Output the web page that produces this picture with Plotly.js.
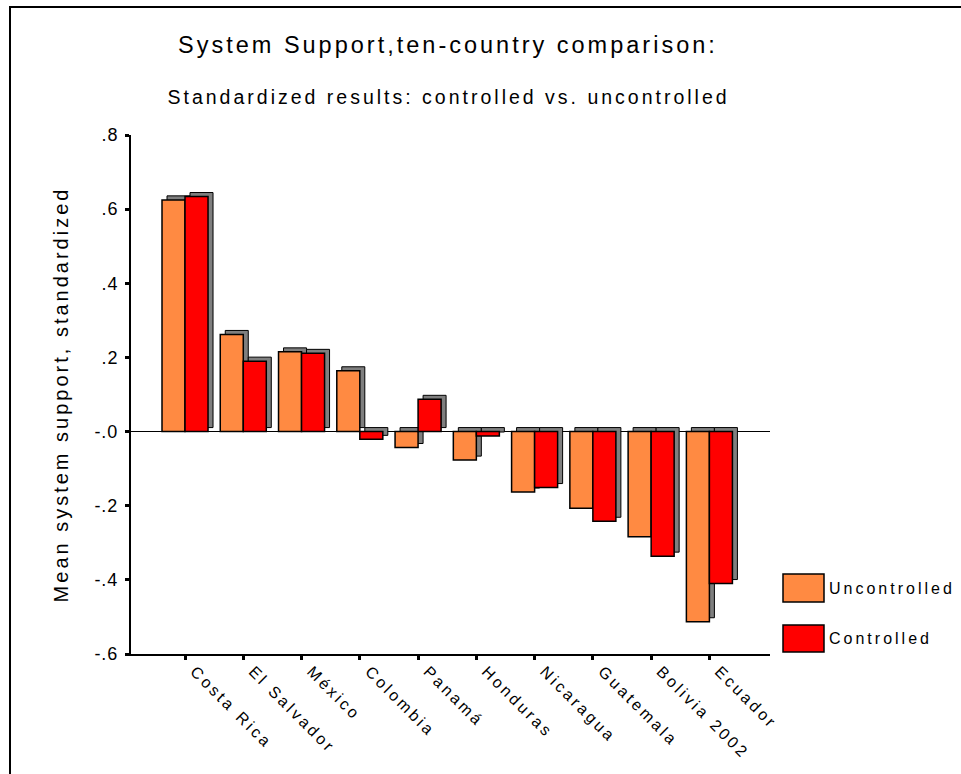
<!DOCTYPE html>
<html>
<head>
<meta charset="utf-8">
<script src="https://cdn.plot.ly/plotly-3.0.1.min.js"></script>
<style>
  html, body { margin: 0; padding: 0; background: #fff; }
  #wrap { position: relative; width: 961px; height: 774px; }
  #chart { position: absolute; left: 0; top: 0; width: 961px; height: 774px; }
  #frame { position: absolute; left: 9px; top: 6px; right: 0; bottom: 0;
           border-left: 2px solid #000; border-top: 2px solid #000; pointer-events: none; }
  .main-svg text { letter-spacing: 3px; }
  .y2tick text, .ytick text { letter-spacing: 1px; }
</style>
</head>
<body>
<div id="wrap">
  <div id="chart"></div>
  <div id="frame"></div>
</div>
<script>
// ---- data ----
const categories = ['Costa Rica', 'El Salvador', 'México', 'Colombia', 'Panamá',
                    'Honduras', 'Nicaragua', 'Guatemala', 'Bolivia 2002', 'Ecuador'];
const uncontrolled = [0.625, 0.262, 0.215, 0.164, -0.043, -0.077, -0.163, -0.207, -0.284, -0.513];
const controlled   = [0.634, 0.190, 0.211, -0.021, 0.087, -0.012, -0.151, -0.242, -0.336, -0.410];
const yTickVals = [0.8, 0.6, 0.4, 0.2, 0, -0.2, -0.4, -0.6];
const yTickText = ['.8', '.6', '.4', '.2', '-.0', '-.2', '-.4', '-.6'];
const seriesNames = ['Uncontrolled', 'Controlled'];

// ---- style / layout constants ----
const W = 961, H = 774;
const M = { l: 131, r: 191, t: 135, b: 120 };
const PW = W - M.l - M.r, PH = H - M.t - M.b;
const xRange = [-0.927, 10.04];
const yRange = [-0.6, 0.8];
const depthX = 5, depthY = 4;  // 3D depth in px
const dxData = depthX * (xRange[1] - xRange[0]) / PW;
const dyData = depthY * (yRange[1] - yRange[0]) / PH;
const colors = ['#FF8A42', '#FF0000'];
const FONT = 'Liberation Sans, Arial, sans-serif';

function px2paperX(p) { return (p - M.l) / PW; }
function px2paperY(p) { return (M.t + PH - p) / PH; }

// depth (shadow) bars on base axes, real bars on overlay axes
const shadowTraces = [uncontrolled, controlled].map((vals, i) => ({
  type: 'bar', x: categories, y: vals, xaxis: 'x', yaxis: 'y',
  marker: { color: '#7f7f7f', line: { color: '#000', width: 1 } },
  showlegend: false, hoverinfo: 'skip'
}));
const mainTraces = [uncontrolled, controlled].map((vals, i) => ({
  type: 'bar', x: categories, y: vals, xaxis: 'x2', yaxis: 'y2', name: seriesNames[i],
  marker: { color: colors[i], line: { color: '#000', width: 1.5 } },
  showlegend: false
}));

const legendY = [[574, 602], [625, 652]];
const shapes = [];
const annotations = [
  { text: 'System Support,ten-country comparison:', xref: 'paper', yref: 'paper',
    x: px2paperX(448), y: px2paperY(45), xanchor: 'center', yanchor: 'middle', showarrow: false,
    font: { family: FONT, size: 23.5, color: '#000' } },
  { text: 'Standardized results: controlled vs. uncontrolled', xref: 'paper', yref: 'paper',
    x: px2paperX(448), y: px2paperY(97), xanchor: 'center', yanchor: 'middle', showarrow: false,
    font: { family: FONT, size: 19.5, color: '#000' } }
];
seriesNames.forEach((nm, i) => {
  shapes.push({ type: 'rect', xref: 'paper', yref: 'paper',
    x0: px2paperX(783), x1: px2paperX(824), y0: px2paperY(legendY[i][1]), y1: px2paperY(legendY[i][0]),
    fillcolor: colors[i], line: { color: '#000', width: 1.5 } });
  annotations.push({ text: nm, xref: 'paper', yref: 'paper',
    x: px2paperX(831 + (i === 0 ? 121 : 99) / 2), y: px2paperY((legendY[i][0] + legendY[i][1]) / 2),
    xanchor: 'center', yanchor: 'middle', showarrow: false,
    font: { family: FONT, size: 16, color: '#000' } });
});

const layout = {
  width: W, height: H,
  margin: M,
  paper_bgcolor: '#fff', plot_bgcolor: 'rgba(0,0,0,0)',
  barmode: 'group', bargap: 0.21, bargroupgap: 0,
  showlegend: false,
  font: { family: FONT, color: '#000' },
  xaxis: { visible: false, range: [xRange[0] - dxData, xRange[1] - dxData], fixedrange: true },
  yaxis: { visible: false, range: [yRange[0] - dyData, yRange[1] - dyData], fixedrange: true },
  xaxis2: {
    overlaying: 'x', anchor: 'y2', side: 'bottom', range: xRange,
    showline: true, linecolor: '#000', linewidth: 2, showgrid: false, zeroline: false,
    ticks: 'outside', ticklen: 4, tickwidth: 3, tickcolor: '#000',
    tickangle: 45, ticklabelshift: 10, ticklabelstandoff: -4,
    tickfont: { family: FONT, size: 16, color: '#000' }
  },
  yaxis2: {
    overlaying: 'y', anchor: 'x2', side: 'left', range: yRange,
    tickvals: yTickVals, ticktext: yTickText,
    showline: true, linecolor: '#000', linewidth: 2, showgrid: false,
    zeroline: true, zerolinecolor: '#000', zerolinewidth: 1.5,
    ticks: 'outside', ticklen: 4, tickwidth: 3, tickcolor: '#000',
    ticklabelstandoff: 3,
    tickfont: { family: FONT, size: 18, color: '#000' },
    title: { text: 'Mean system support, standardized', standoff: 20,
             font: { family: FONT, size: 20, color: '#000' } }
  },
  shapes: shapes,
  annotations: annotations
};

Plotly.newPlot('chart', shadowTraces.concat(mainTraces), layout, { staticPlot: true });
</script>
</body>
</html>
